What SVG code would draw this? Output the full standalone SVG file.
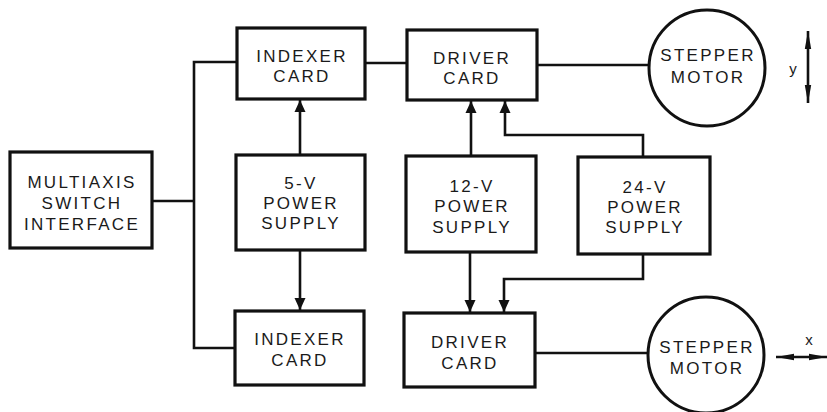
<svg xmlns="http://www.w3.org/2000/svg" width="827" height="412" viewBox="0 0 827 412">
<style>
.box{fill:#fff;stroke:#111;stroke-width:3.2}
.circ{fill:#fff;stroke:#111;stroke-width:3}
.ln{fill:none;stroke:#111;stroke-width:2.6}
.t{font-family:"Liberation Sans",Arial,sans-serif;font-size:17px;letter-spacing:2.3px;fill:#1a1a1a;text-anchor:middle}
.s{font-family:"Liberation Sans",Arial,sans-serif;font-size:15px;fill:#1a1a1a;text-anchor:middle}
</style>
<defs>
<marker id="ah" viewBox="0 0 12 16" refX="12" refY="8" markerWidth="12" markerHeight="16" markerUnits="userSpaceOnUse" orient="auto">
<path d="M0,2.5 L12,8 L0,13.5 z" fill="#111"/>
</marker>
<marker id="sh" viewBox="0 0 18 8" refX="18" refY="4" markerWidth="18" markerHeight="8" markerUnits="userSpaceOnUse" orient="auto-start-reverse">
<path d="M0,0.8 L18,4 L0,7.2 z" fill="#111"/>
</marker>
</defs>
<g id="connectors">
<polyline class="ln" points="237,62 194,62 194,348 236,348"/>
<line class="ln" x1="152" y1="201" x2="194" y2="201"/>
<line class="ln" x1="365" y1="63" x2="407" y2="63"/>
<line class="ln" x1="537" y1="65" x2="650" y2="65"/>
<line class="ln" x1="536" y1="353" x2="649" y2="353"/>
<line class="ln" x1="300" y1="155" x2="300" y2="100" marker-end="url(#ah)"/>
<line class="ln" x1="300" y1="250" x2="300" y2="310" marker-end="url(#ah)"/>
<line class="ln" x1="471" y1="156" x2="471" y2="101" marker-end="url(#ah)"/>
<line class="ln" x1="470" y1="252" x2="470" y2="312" marker-end="url(#ah)"/>
<polyline class="ln" points="643,157 643,135 505,135 505,101" marker-end="url(#ah)"/>
<polyline class="ln" points="643,254 643,279 504,279 504,312" marker-end="url(#ah)"/>
<line class="ln" x1="808" y1="31" x2="808" y2="103" marker-start="url(#sh)" marker-end="url(#sh)"/>
<line class="ln" x1="776" y1="357" x2="827" y2="357" marker-start="url(#sh)" marker-end="url(#sh)"/>
</g>
<g id="multiaxis">
<rect class="box" x="10" y="152" width="142" height="96"/>
<text class="t" x="82" y="188">MULTIAXIS</text>
<text class="t" x="82" y="209">SWITCH</text>
<text class="t" x="82" y="230">INTERFACE</text>
</g>
<g id="indexer-top">
<rect class="box" x="237" y="28" width="128" height="71"/>
<text class="t" x="302" y="62">INDEXER</text>
<text class="t" x="302" y="82">CARD</text>
</g>
<g id="driver-top">
<rect class="box" x="407" y="30" width="130" height="70"/>
<text class="t" x="472" y="64">DRIVER</text>
<text class="t" x="472" y="84">CARD</text>
</g>
<g id="motor-top">
<circle class="circ" cx="707" cy="68" r="58"/>
<text class="t" x="708" y="61">STEPPER</text>
<text class="t" x="708" y="83">MOTOR</text>
</g>
<g id="ps5">
<rect class="box" x="236" y="155" width="129" height="95"/>
<text class="t" x="301" y="189">5-V</text>
<text class="t" x="301" y="209">POWER</text>
<text class="t" x="301" y="229">SUPPLY</text>
</g>
<g id="ps12">
<rect class="box" x="406" y="156" width="130" height="96"/>
<text class="t" x="472" y="192">12-V</text>
<text class="t" x="472" y="212">POWER</text>
<text class="t" x="472" y="233">SUPPLY</text>
</g>
<g id="ps24">
<rect class="box" x="578" y="157" width="132" height="97"/>
<text class="t" x="645" y="193">24-V</text>
<text class="t" x="645" y="213">POWER</text>
<text class="t" x="645" y="233">SUPPLY</text>
</g>
<g id="indexer-bottom">
<rect class="box" x="235" y="311" width="129" height="74"/>
<text class="t" x="300" y="345">INDEXER</text>
<text class="t" x="300" y="366">CARD</text>
</g>
<g id="driver-bottom">
<rect class="box" x="404" y="313" width="131" height="74"/>
<text class="t" x="470" y="348">DRIVER</text>
<text class="t" x="470" y="369">CARD</text>
</g>
<g id="motor-bottom">
<circle class="circ" cx="706" cy="355" r="58"/>
<text class="t" x="707" y="353">STEPPER</text>
<text class="t" x="707" y="374">MOTOR</text>
</g>
<text class="s" x="793" y="74">y</text>
<text class="s" x="809" y="345">x</text>
</svg>
